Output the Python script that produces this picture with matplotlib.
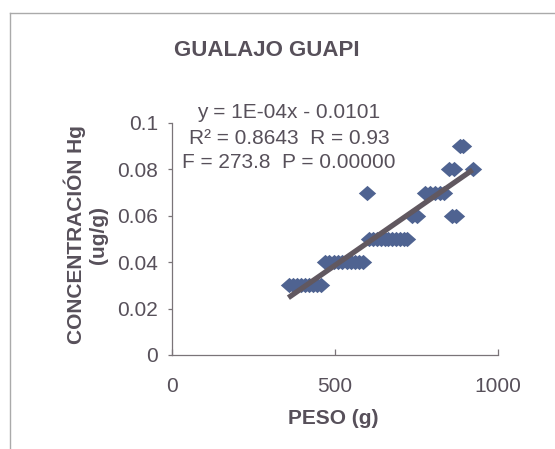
import matplotlib
matplotlib.use("Agg")
import matplotlib.pyplot as plt
from matplotlib.lines import Line2D
import numpy as np

# Fish weight (g) and mercury concentration (ug/g), grouped by concentration level
peso = [
    360, 372, 384, 396, 408, 420, 432, 446, 458,             # 0.03
    468, 482, 496, 510, 522, 536, 550, 562, 574, 586,        # 0.04
    604, 616, 628, 640, 652, 664, 676, 688, 700, 712, 722,   # 0.05
    735, 752, 858, 870,                                      # 0.06
    598, 775, 792, 808, 822, 834,                            # 0.07
    850, 864, 922,                                           # 0.08
    884, 894,                                                # 0.09
]
concentracion = (
    [0.03] * 9 + [0.04] * 10 + [0.05] * 11 + [0.06] * 4
    + [0.07] * 6 + [0.08] * 3 + [0.09] * 2
)

# Regression statistics
SLOPE = 0.0000975
INTERCEPT = -0.0101
R2 = 0.8643
R = 0.93
F_STAT = 273.8
P_VALUE = 0.0

x_ticks = [0, 500, 1000]
y_ticks = [0, 0.02, 0.04, 0.06, 0.08, 0.1]
y_tick_labels = ["0", "0.02", "0.04", "0.06", "0.08", "0.1"]

TEXT = "#57505a"
POINT = "#4f6391"
TREND = "#615860"

plt.rcParams["font.family"] = ["Liberation Sans", "DejaVu Sans"]

W, H = 555, 449
fig = plt.figure(figsize=(W / 100, H / 100), dpi=100)

# chart-area border (top and left edges)
fig.add_artist(Line2D([10 / W, 10 / W], [0, 1 - 13 / H], color="#aaaaaa", lw=1.0))
fig.add_artist(Line2D([10 / W, 1], [1 - 13 / H, 1 - 13 / H], color="#aaaaaa", lw=1.0))

ax = fig.add_axes([172 / W, 1 - 355 / H, (498 - 172) / W, (355 - 123) / H])

diamond = [(-1, 0), (0, 0.88), (1, 0), (0, -0.88), (-1, 0)]
ax.plot(peso, concentracion, linestyle="none", marker=diamond, markersize=12.5,
        color=POINT, markeredgewidth=0, zorder=3)

xl = np.array([357, max(peso)])
ax.plot(xl, SLOPE * xl + INTERCEPT, color=TREND, lw=3.8, solid_capstyle="butt", zorder=4)

ax.set_xlim(0, 1000)
ax.set_ylim(0, 0.1)
ax.set_xticks(x_ticks)
ax.set_xticklabels([str(v) for v in x_ticks])
ax.set_yticks(y_ticks)
ax.set_yticklabels(y_tick_labels)

for side in ("top", "right"):
    ax.spines[side].set_visible(False)
for side in ("left", "bottom"):
    ax.spines[side].set_color("#7a7478")
    ax.spines[side].set_linewidth(0.9)

ax.tick_params(axis="x", direction="in", length=4, width=0.9, color="#7a7478",
               pad=15.5, labelsize=15, labelcolor=TEXT)
ax.tick_params(axis="y", direction="out", length=3, width=0.9, color="#7a7478",
               pad=7, labelsize=15, labelcolor=TEXT)

fig.text(267 / W, 1 - 50 / H, "GUALAJO GUAPI", ha="center", va="center",
         fontsize=16, fontweight="bold", color=TEXT)
fig.text(333 / W, 1 - 418 / H, "PESO (g)", ha="center", va="center",
         fontsize=15, fontweight="bold", color=TEXT)
fig.text(86 / W, 1 - 235 / H, "CONCENTRACIÓN Hg\n(ug/g)", ha="center", va="center",
         rotation=90, multialignment="center", linespacing=1.2,
         fontsize=15, fontweight="bold", color=TEXT)

eq_lines = [
    f"y = {SLOPE:.0E}x - {abs(INTERCEPT):.4f}",
    f"R² = {R2:.4f}  R = {R:.2f}",
    f"F = {F_STAT:.1f}  P = {P_VALUE:.5f}",
]
for text, ypix in zip(eq_lines, [113, 138, 162]):
    fig.text(289 / W, 1 - ypix / H, text, ha="center", va="center",
             fontsize=15, color=TEXT)

fig.savefig("out.png", dpi=100)
